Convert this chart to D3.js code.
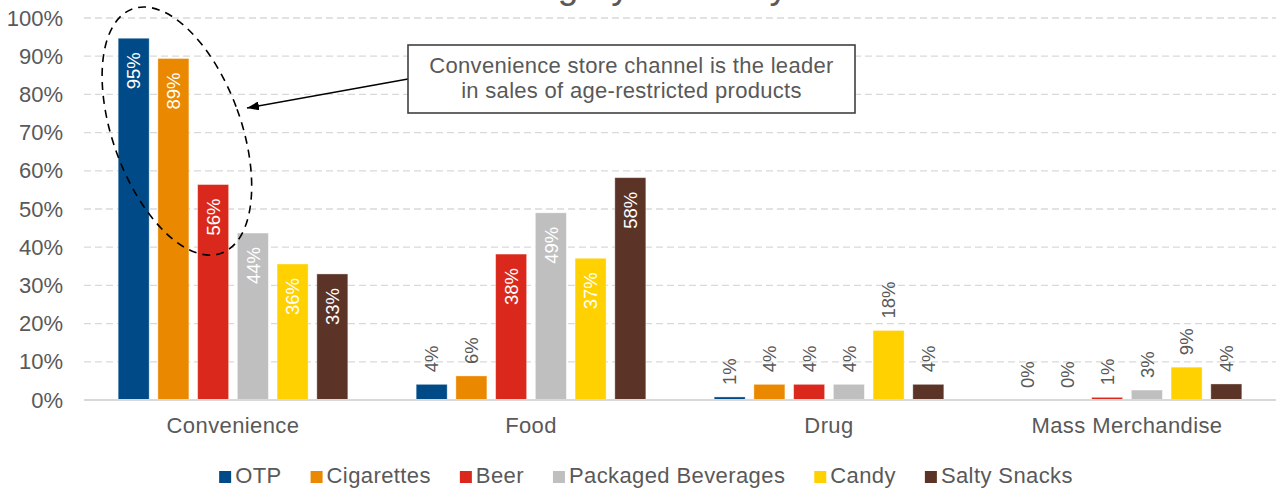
<!DOCTYPE html>
<html>
<head>
<meta charset="utf-8">
<script src="https://cdn.jsdelivr.net/npm/d3@7"></script>
<style>
  html, body { margin: 0; padding: 0; background: #fff; }
  svg { display: block; font-family: "Liberation Sans", Arial, sans-serif; }
</style>
</head>
<body>
<svg id="chart" width="1276" height="488"></svg>
<script>
// ---- data ----
const categories = ["Convenience", "Food", "Drug", "Mass Merchandise"];
const seriesNames = ["OTP", "Cigarettes", "Beer", "Packaged Beverages", "Candy", "Salty Snacks"];
const otp = [94.7, 4.1, 0.8, 0];
const cigarettes = [89.4, 6.3, 4.1, 0];
const beer = [56.4, 38.2, 4.1, 0.7];
const packagedBeverages = [43.7, 49.0, 4.1, 2.6];
const candy = [35.6, 37.1, 18.2, 8.6];
const saltySnacks = [33.0, 58.2, 4.1, 4.2];
const seriesColors = ["#004b87", "#ea8800", "#da291c", "#bfbfbf", "#ffd100", "#5b3427"];
const yTicks = [0, 10, 20, 30, 40, 50, 60, 70, 80, 90, 100];
const titleText = "Category Share by Channel";
const calloutLines = ["Convenience store channel is the leader", "in sales of age-restricted products"];

const seriesValues = [otp, cigarettes, beer, packagedBeverages, candy, saltySnacks];

// ---- layout ----
const plot = { left: 84, right: 1276, top: 18, bottom: 400 };
const textColor = "#595959";
const svg = d3.select("#chart");

const x = d3.scaleBand().domain(categories).range([plot.left, plot.right]).paddingInner(0).paddingOuter(0);
const xi = d3.scaleBand().domain(seriesNames).range([0, x.bandwidth()]).paddingInner(0.22).paddingOuter(0.86);
const y = d3.scaleLinear().domain([0, 100]).range([plot.bottom, plot.top]);

// title (cropped at the top edge, only descenders visible)
const title = svg.append("text")
  .attr("x", 0).attr("y", -2)
  .attr("font-size", 37)
  .attr("fill", textColor)
  .text(titleText);
{
  const n = title.node();
  const gi = titleText.indexOf("g");
  const off = n.getSubStringLength(0, gi) + n.getSubStringLength(gi, 1) / 2;
  title.attr("x", 568 - off);
}

// gridlines
svg.append("g").selectAll("line")
  .data(yTicks.filter(d => d > 0))
  .join("line")
  .attr("x1", plot.left).attr("x2", plot.right)
  .attr("y1", d => y(d)).attr("y2", d => y(d))
  .attr("stroke", "#d9d9d9").attr("stroke-width", 1.3)
  .attr("stroke-dasharray", "7,4");

// y axis
const yAxis = d3.axisLeft(y).tickValues(yTicks).tickFormat(d => d + "%").tickSize(0).tickPadding(21);
const yg = svg.append("g").attr("transform", `translate(${plot.left},0)`).call(yAxis);
yg.select(".domain").remove();
yg.selectAll("text").attr("font-size", 22).attr("fill", textColor)
  .attr("font-family", "'Liberation Sans', Arial, sans-serif");

// bars
const rows = [];
categories.forEach((c, ci) => {
  seriesNames.forEach((s, si) => {
    rows.push({ cat: c, ser: s, si, v: seriesValues[si][ci] });
  });
});

const bars = svg.append("g");
bars.selectAll("rect").data(rows.filter(d => d.v > 0)).join("rect")
  .attr("x", d => x(d.cat) + xi(d.ser))
  .attr("width", xi.bandwidth())
  .attr("y", d => y(d.v))
  .attr("height", d => y(0) - y(d.v))
  .attr("fill", d => seriesColors[d.si])
  .attr("stroke", "#ffffff").attr("stroke-opacity", 0.45).attr("stroke-width", 0.8);

// baseline
svg.append("line")
  .attr("x1", plot.left).attr("x2", plot.right)
  .attr("y1", y(0)).attr("y2", y(0))
  .attr("stroke", "#d9d9d9").attr("stroke-width", 2);

// value labels
const insideThreshold = 25;
svg.append("g").selectAll("text").data(rows).join("text")
  .attr("transform", d => {
    const cx = x(d.cat) + xi(d.ser) + xi.bandwidth() / 2;
    const inside = d.v > insideThreshold;
    const yy = inside ? y(d.v) + 14 : y(d.v) - 12;
    return `translate(${cx},${yy}) rotate(-90)`;
  })
  .attr("dy", "0.36em")
  .attr("text-anchor", d => d.v > insideThreshold ? "end" : "start")
  .attr("font-size", 18.5)
  .attr("fill", d => d.v > insideThreshold ? "#ffffff" : textColor)
  .text(d => Math.round(d.v) + "%");

// category labels
svg.append("g").selectAll("text").data(categories).join("text")
  .attr("x", d => x(d) + x.bandwidth() / 2)
  .attr("y", 433)
  .attr("text-anchor", "middle")
  .attr("font-size", 22)
  .attr("letter-spacing", 0.4)
  .attr("fill", textColor)
  .text(d => d);

// legend
const legend = svg.append("g");
let lx = 0;
seriesNames.forEach((s, i) => {
  const g = legend.append("g");
  g.append("rect").attr("x", 0).attr("y", -12).attr("width", 12).attr("height", 12).attr("fill", seriesColors[i]);
  const t = g.append("text").attr("x", 16).attr("y", 0).attr("font-size", 22)
    .attr("letter-spacing", 0.4).attr("fill", textColor).text(s);
  const w = t.node().getComputedTextLength();
  g.attr("transform", `translate(${lx},0)`);
  lx += 16 + w + 29;
});
const legendWidth = lx - 29;
legend.attr("transform", `translate(${646 - legendWidth / 2},483)`);

// annotation: dashed ellipse around convenience leaders
const ecx = x("Convenience") + xi("Cigarettes") + xi.bandwidth() / 2 + 3.5;
const ecy = y(70.4);
svg.append("ellipse")
  .attr("cx", 0).attr("cy", 0).attr("rx", 64).attr("ry", 130)
  .attr("transform", `translate(${ecx},${ecy}) rotate(-20)`)
  .attr("fill", "none").attr("stroke", "#000").attr("stroke-width", 1.6)
  .attr("stroke-dasharray", "8,6");

// callout box + arrow
const box = { x: 408, y: 45, w: 447, h: 68 };
svg.append("defs").append("marker")
  .attr("id", "arrow").attr("viewBox", "0 0 12 9").attr("refX", 12).attr("refY", 4.5)
  .attr("markerWidth", 12).attr("markerHeight", 9).attr("markerUnits", "userSpaceOnUse")
  .attr("orient", "auto")
  .append("path").attr("d", "M0,0 L12,4.5 L0,9 Z").attr("fill", "#000");
svg.append("line")
  .attr("x1", box.x).attr("y1", 79)
  .attr("x2", 247).attr("y2", 108)
  .attr("stroke", "#000").attr("stroke-width", 1.4)
  .attr("marker-end", "url(#arrow)");
svg.append("rect")
  .attr("x", box.x).attr("y", box.y).attr("width", box.w).attr("height", box.h)
  .attr("fill", "#fff").attr("stroke", "#404040").attr("stroke-width", 1.6);
svg.append("g").selectAll("text").data(calloutLines).join("text")
  .attr("x", box.x + box.w / 2)
  .attr("y", (d, i) => 73 + i * 25)
  .attr("text-anchor", "middle")
  .attr("font-size", 22)
  .attr("letter-spacing", 0.3)
  .attr("fill", textColor)
  .text(d => d);
</script>
</body>
</html>
